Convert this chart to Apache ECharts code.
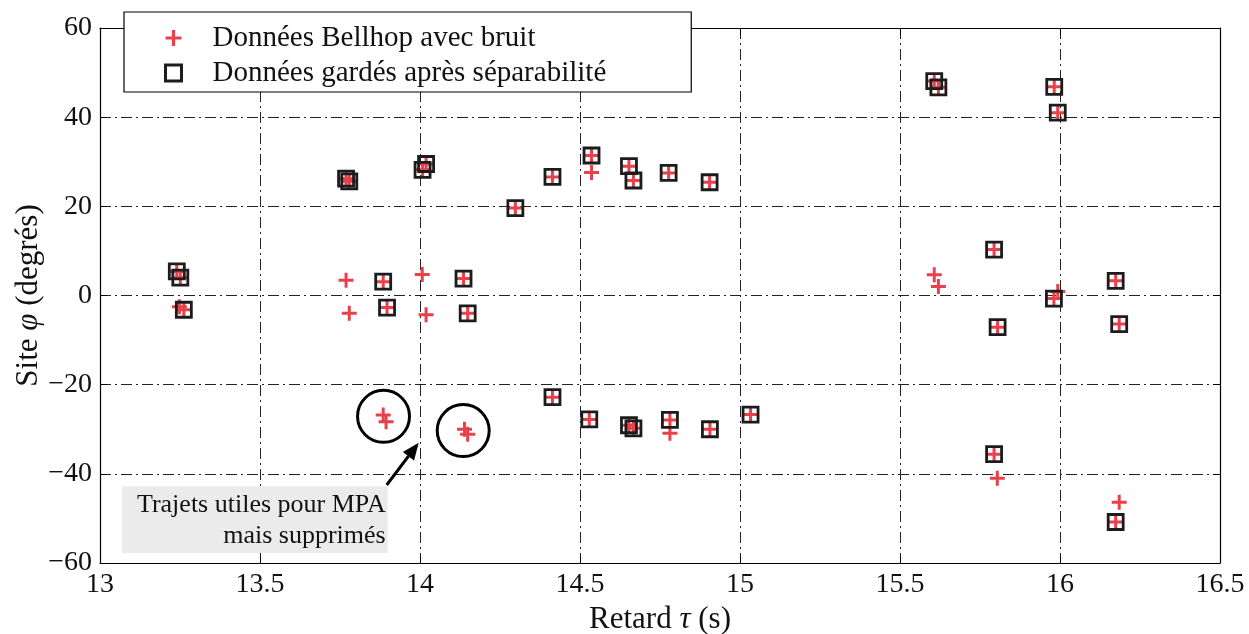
<!DOCTYPE html>
<html>
<head>
<meta charset="utf-8">
<script src="https://cdn.jsdelivr.net/npm/echarts@6/dist/echarts.min.js"></script>
<style>
  html, body { margin: 0; padding: 0; background: #fff; }
  #chart { width: 1249px; height: 634px; }
</style>
</head>
<body>
<div id="chart"></div>
<script>
// Retard tau (s) / site phi (degrés) of every arrival, with noise
const donneesBruit = [
  [13.240, 5.4], [13.251, 4.0], [13.248, -2.5], [13.262, -3.2],
  [13.769, 26.2], [13.779, 25.6], [13.769, 3.4], [13.779, -4.0],
  [13.885, 3.1], [13.897, -2.7], [13.885, -26.8], [13.894, -28.3],
  [14.019, 29.5], [14.008, 28.2], [14.007, 4.7], [14.019, -4.3],
  [14.136, 3.8], [14.149, -4.0], [14.139, -30.0], [14.149, -31.1],
  [14.298, 19.6], [14.414, 26.6], [14.414, -22.8],
  [14.536, 31.4], [14.536, 27.6], [14.529, -27.8],
  [14.653, 29.0], [14.667, 25.8], [14.653, -29.1], [14.667, -29.8],
  [14.777, 27.5], [14.781, -27.9], [14.781, -30.9],
  [14.905, 25.4], [14.906, -30.0], [15.033, -26.7],
  [15.607, 48.1], [15.620, 46.7], [15.607, 4.65], [15.620, 2.0],
  [15.794, 10.3], [15.805, -7.1], [15.794, -35.6], [15.804, -41.0],
  [15.982, 46.8], [15.993, 41.0], [15.981, -0.7], [15.993, 0.9],
  [16.174, 3.3], [16.185, -6.4], [16.185, -46.4], [16.174, -50.8]
];

// Arrivals kept after the separability test
const donneesGardees = [
  [13.240, 5.4], [13.251, 4.0], [13.262, -3.2],
  [13.769, 26.2], [13.779, 25.6],
  [13.885, 3.1], [13.897, -2.7],
  [14.019, 29.5], [14.008, 28.2],
  [14.136, 3.8], [14.149, -4.0],
  [14.298, 19.6], [14.414, 26.6], [14.414, -22.8],
  [14.536, 31.4], [14.529, -27.8],
  [14.653, 29.0], [14.667, 25.8], [14.653, -29.1], [14.667, -29.8],
  [14.777, 27.5], [14.781, -27.9],
  [14.905, 25.4], [14.906, -30.0], [15.033, -26.7],
  [15.607, 48.1], [15.620, 46.7],
  [15.794, 10.3], [15.805, -7.1], [15.794, -35.6],
  [15.982, 46.8], [15.993, 41.0], [15.981, -0.7],
  [16.174, 3.3], [16.185, -6.4], [16.174, -50.8]
];

const xTicks = [13, 13.5, 14, 14.5, 15, 15.5, 16, 16.5];
const yTicks = [-60, -40, -20, 0, 20, 40, 60];

const seriesNames = ['Données Bellhop avec bruit', 'Données gardés après séparabilité'];
const xTitle = 'Retard {m|τ} (s)';
const yTitle = 'Site {m|φ} (degrés)';
const noteLines = ['Trajets utiles pour MPA', 'mais supprimés'];

// circled paths, arrow and note box, in data coordinates
const circleCenters = [[13.886, -27.1], [14.135, -30.3]];
const arrowTail = [13.896, -42.5];
const arrowHead = [13.996, -33.0];
const noteBox = [[13.068, -42.76], [13.899, -57.75]];

const FONT = '"Liberation Serif", "DejaVu Serif", serif';
const RED = '#e8414b';
const BLACK = '#1c1c1c';
const PLUS = 'path://M4,0H6V4H10V6H6V10H4V6H0V4H4Z';
const gridLine = { color: '#222', width: 1, type: [11, 4, 2, 4] };

const chart = echarts.init(document.getElementById('chart'), null, { renderer: 'canvas' });

const fmtX = v => String(v);
const fmtY = v => String(v).replace('-', '\u2212');

const titleStyle = {
  fontFamily: FONT, fontSize: 31, color: '#111',
  rich: { m: { fontFamily: FONT, fontSize: 31, fontStyle: 'italic', color: '#111' } }
};

const option = {
  animation: false,
  backgroundColor: '#fff',
  grid: { left: 100, right: 29, top: 28, bottom: 71, show: false, containLabel: false, outerBoundsMode: 'none' },
  xAxis: [{
    type: 'value', min: xTicks[0], max: xTicks[xTicks.length - 1], interval: 0.5,
    position: 'bottom',
    name: xTitle, nameLocation: 'middle', nameGap: 41,
    nameTextStyle: titleStyle,
    axisLine: { show: true, onZero: false, lineStyle: { color: '#000', width: 1.2 } },
    axisTick: { show: true, inside: true, length: 7, lineStyle: { color: '#000' } },
    axisLabel: { fontFamily: FONT, fontSize: 28, color: '#111', margin: 8, formatter: fmtX },
    splitLine: { show: true, lineStyle: gridLine }
  }, {
    type: 'value', min: xTicks[0], max: xTicks[xTicks.length - 1], interval: 0.5,
    position: 'top',
    axisLine: { show: true, onZero: false, lineStyle: { color: '#000', width: 1.2 } },
    axisTick: { show: true, inside: true, length: 7, lineStyle: { color: '#000' } },
    axisLabel: { show: false },
    splitLine: { show: false }
  }],
  yAxis: [{
    type: 'value', min: yTicks[0], max: yTicks[yTicks.length - 1], interval: 20,
    position: 'left',
    name: yTitle, nameLocation: 'middle', nameGap: 56, nameRotate: 90, nameMoveOverlap: false,
    nameTextStyle: titleStyle,
    axisLine: { show: true, onZero: false, lineStyle: { color: '#000', width: 1.2 } },
    axisTick: { show: true, inside: true, length: 7, lineStyle: { color: '#000' } },
    axisLabel: { fontFamily: FONT, fontSize: 28, color: '#111', margin: 8, formatter: fmtY },
    splitLine: { show: true, lineStyle: gridLine }
  }, {
    type: 'value', min: yTicks[0], max: yTicks[yTicks.length - 1], interval: 20,
    position: 'right',
    axisLine: { show: true, onZero: false, lineStyle: { color: '#000', width: 1.2 } },
    axisTick: { show: true, inside: true, length: 7, lineStyle: { color: '#000' } },
    axisLabel: { show: false },
    splitLine: { show: false }
  }],
  legend: {
    orient: 'vertical',
    left: 124, top: 12,
    padding: [11, 85, 4, 40],
    itemGap: 5,
    itemWidth: 16, itemHeight: 16,
    backgroundColor: '#fff',
    borderColor: '#000', borderWidth: 1.2,
    z: 10,
    data: [
      { name: seriesNames[0], icon: PLUS, itemStyle: { color: RED } },
      { name: seriesNames[1], icon: 'rect', itemStyle: { color: 'transparent', borderColor: BLACK, borderWidth: 3 } }
    ],
    textStyle: { fontFamily: FONT, fontSize: 29, color: '#111', lineHeight: 30, padding: [0, 0, 0, 26] }
  },
  series: [{
    name: seriesNames[0],
    type: 'scatter',
    data: donneesBruit,
    symbol: PLUS,
    symbolSize: 15,
    itemStyle: { color: RED, opacity: 1 },
    z: 3
  }, {
    name: seriesNames[1],
    type: 'scatter',
    data: donneesGardees,
    symbol: 'rect',
    symbolSize: 15,
    itemStyle: { color: 'transparent', borderColor: BLACK, borderWidth: 2.8, opacity: 1 },
    z: 4
  }]
};

chart.setOption(option);

// Annotation overlay: circles around removed paths, arrow and note
function drawNotes() {
  const px = p => chart.convertToPixel({ gridIndex: 0 }, p);
  const g = [];
  circleCenters.forEach(c => {
    const p = px(c);
    g.push({ type: 'circle', shape: { cx: p[0], cy: p[1], r: 26 },
      style: { fill: 'none', stroke: '#000', lineWidth: 3 }, z: 20 });
  });
  const t = px(arrowTail), h = px(arrowHead);
  const ang = Math.atan2(h[1] - t[1], h[0] - t[0]);
  const L = 17, W = 7;
  const bx = h[0] - L * Math.cos(ang), by = h[1] - L * Math.sin(ang);
  g.push({ type: 'line', shape: { x1: t[0], y1: t[1], x2: bx, y2: by },
    style: { stroke: '#000', lineWidth: 3 }, z: 20 });
  g.push({ type: 'polygon', shape: { points: [
      [h[0], h[1]],
      [bx + W * Math.sin(ang), by - W * Math.cos(ang)],
      [bx - W * Math.sin(ang), by + W * Math.cos(ang)]
    ] }, style: { fill: '#000' }, z: 20 });
  const b0 = px(noteBox[0]), b1 = px(noteBox[1]);
  g.push({ type: 'rect', shape: { x: b0[0], y: b0[1], width: b1[0] - b0[0], height: b1[1] - b0[1] },
    style: { fill: '#ebebeb' }, z: 19 });
  g.push({ type: 'text', x: b1[0] - 2, y: b0[1] + 4, z: 21,
    style: { text: noteLines.join('\n'), align: 'right', verticalAlign: 'top',
      font: '26px ' + FONT, lineHeight: 31, fill: '#111' } });
  chart.setOption({ graphic: g });
}
drawNotes();
</script>
</body>
</html>
